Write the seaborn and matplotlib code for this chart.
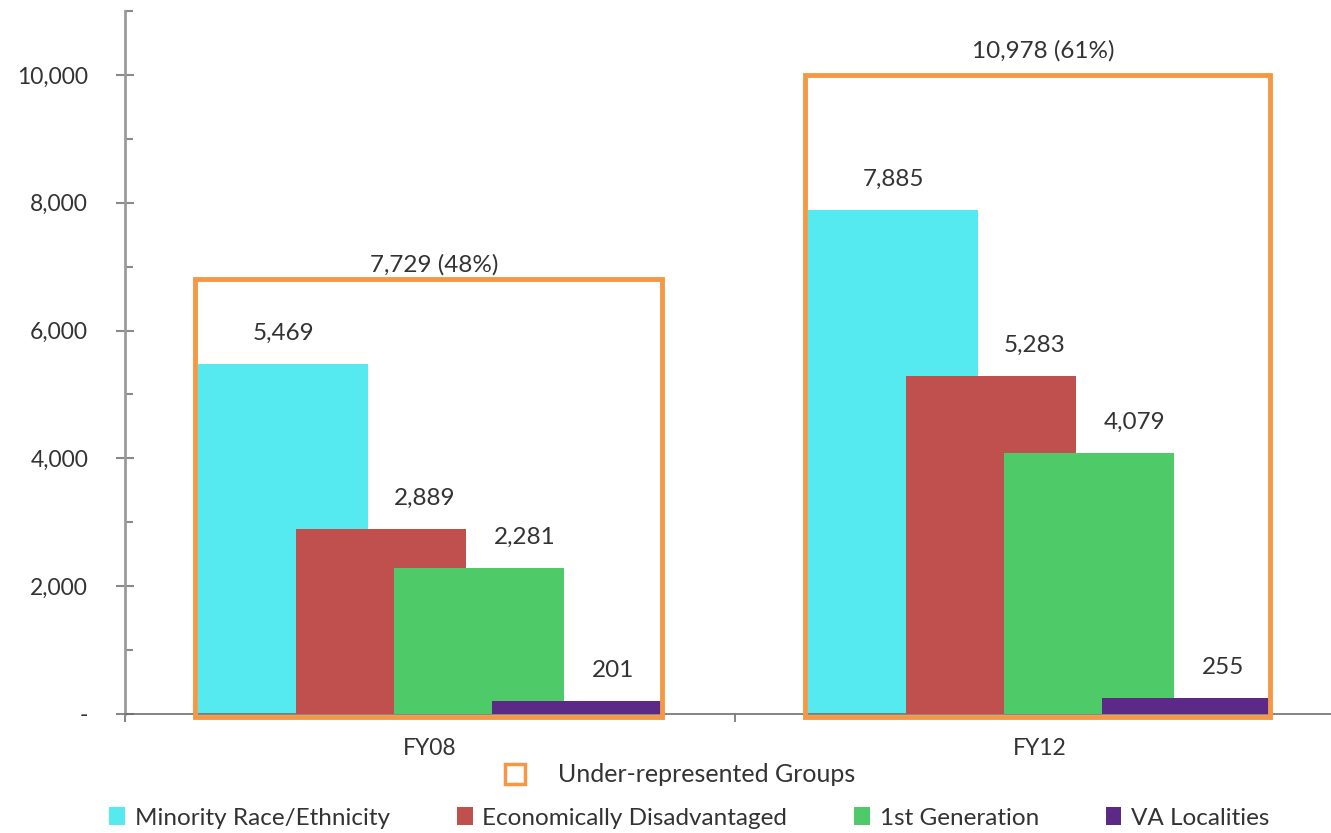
import matplotlib
matplotlib.use("Agg")
import matplotlib.pyplot as plt
from matplotlib.patches import Rectangle, Patch
from matplotlib.ticker import FixedLocator, FuncFormatter
import seaborn as sns
import pandas as pd

# ---- data ----
years = ["FY08", "FY12"]
groups = ["Minority Race/Ethnicity", "Economically Disadvantaged",
          "1st Generation", "VA Localities"]
minority = [5469, 7885]
econ_disadv = [2889, 5283]
first_gen = [2281, 4079]
va_localities = [201, 255]
urg_total = [7729, 10978]
urg_pct = [48, 61]
urg_label = "Under-represented Groups"

# ---- styling ----
colors = ["#55E9F0", "#C0504D", "#4ECB68", "#5C2A86"]
box_color = "#F59845"
text_color = "#333333"
font = "Lato"
fs_label = 17.5
fs_tick = 16.5
fs_legend = 17.5

sns.set_theme(style="white")
plt.rcParams["font.family"] = [font, "DejaVu Sans"]

series = [minority, econ_disadv, first_gen, va_localities]
df = pd.DataFrame(
    [(y, g, vals[i]) for g, vals in zip(groups, series) for i, y in enumerate(years)],
    columns=["year", "group", "value"],
)

fig = plt.figure(figsize=(13.31, 8.33), dpi=100)
ax = fig.add_axes([125 / 1331, 1 - 714 / 833, 1 - 125 / 1331, (714 - 11) / 833])

sns.barplot(data=df, x="year", y="value", hue="group", order=years,
            hue_order=groups, palette=colors, saturation=1, legend=False,
            ax=ax, width=0.8)

# overlapping bars: wider than the dodge slot, each drawn over the previous one
bar_w = 0.278
step = 0.1605
for k, cont in enumerate(ax.containers):
    off = (k - 1.5) * step
    for i, bar in enumerate(cont):
        bar.set_x(i + off - bar_w / 2)
        bar.set_width(bar_w)
        bar.set_linewidth(0)
        bar.set_zorder(2 + k)

# value labels, set over the exposed part of each bar
label_shift = [0.0, 0.072, 0.075, 0.06]
for k, vals in enumerate(series):
    off = (k - 1.5) * step
    for i, v in enumerate(vals):
        ax.text(i + off + label_shift[k], v + 480, f"{v:,}", ha="center",
                va="center", fontsize=fs_label, color=text_color, zorder=10)

# frames around the under-represented groups
box_x = [(-0.386, 0.380), (-0.386, 0.377)]
box_top = [6800, 10000]
title_gap = [230, 380]
for i in range(len(years)):
    x0, x1 = box_x[i]
    ax.add_patch(Rectangle((i + x0, -40), x1 - x0, box_top[i] + 40, fill=False,
                           edgecolor=box_color, linewidth=3.5, zorder=8,
                           clip_on=False))
    ax.text(i + (x0 + x1) / 2 + 0.01, box_top[i] + title_gap[i],
            f"{urg_total[i]:,} ({urg_pct[i]}%)", ha="center", va="center",
            fontsize=fs_label, color=text_color, zorder=10)

# axes
ax.set_xlim(-0.5, -0.5 + 1206 / 610)
ax.set_ylim(0, 11000)
ax.set_xlabel("")
ax.set_ylabel("")
for s in ["top", "right"]:
    ax.spines[s].set_visible(False)
ax.spines["left"].set_color("#9a9a9a")
ax.spines["left"].set_linewidth(2)
ax.spines["bottom"].set_color("#6f6f6f")
ax.spines["bottom"].set_linewidth(1.2)

ax.yaxis.set_major_locator(FixedLocator([0, 2000, 4000, 6000, 8000, 10000]))
ax.yaxis.set_minor_locator(FixedLocator([1000, 3000, 5000, 7000, 9000, 11000]))
ax.yaxis.set_major_formatter(FuncFormatter(lambda v, p: "-" if v == 0 else f"{int(v):,}"))
ax.tick_params(axis="y", which="major", direction="inout", length=13, width=1.5,
               color="#8a8a8a", labelsize=fs_tick, labelcolor=text_color, pad=20, left=True)
ax.tick_params(axis="y", which="minor", direction="in", length=6, width=1.5,
               color="#8a8a8a", left=True)

ax.xaxis.set_major_locator(FixedLocator([-0.5, 0.5, 1.5]))
ax.xaxis.set_minor_locator(FixedLocator([0, 1]))
ax.xaxis.set_major_formatter(FuncFormatter(lambda v, p: ""))
ax.xaxis.set_minor_formatter(FuncFormatter(lambda v, p: years[int(round(v))]))
ax.tick_params(axis="x", which="major", direction="out", length=6, width=1.2,
               color="#6f6f6f", bottom=True)
ax.tick_params(axis="x", which="minor", length=0, labelsize=fs_tick,
               labelcolor=text_color, pad=17, bottom=True)

# legends
fig.legend(handles=[Patch(facecolor="white", edgecolor=box_color, linewidth=2.5,
                          label=urg_label)],
           loc="center", bbox_to_anchor=(0.511, 1 - 775 / 833), frameon=False,
           fontsize=fs_legend + 0.5, handlelength=0.8, handleheight=0.9, handletextpad=1.3,
           labelcolor=text_color)
handles = [Patch(facecolor=c, edgecolor="none", label=g) for c, g in zip(colors, groups)]
fig.legend(handles=handles, loc="center", bbox_to_anchor=(0.518, 1 - 818 / 833),
           ncol=4, frameon=False, fontsize=fs_legend, handlelength=0.65, handleheight=0.7,
           handletextpad=0.4, columnspacing=2.75, labelcolor=text_color)

fig.savefig("out.png", dpi=100, facecolor="white")
